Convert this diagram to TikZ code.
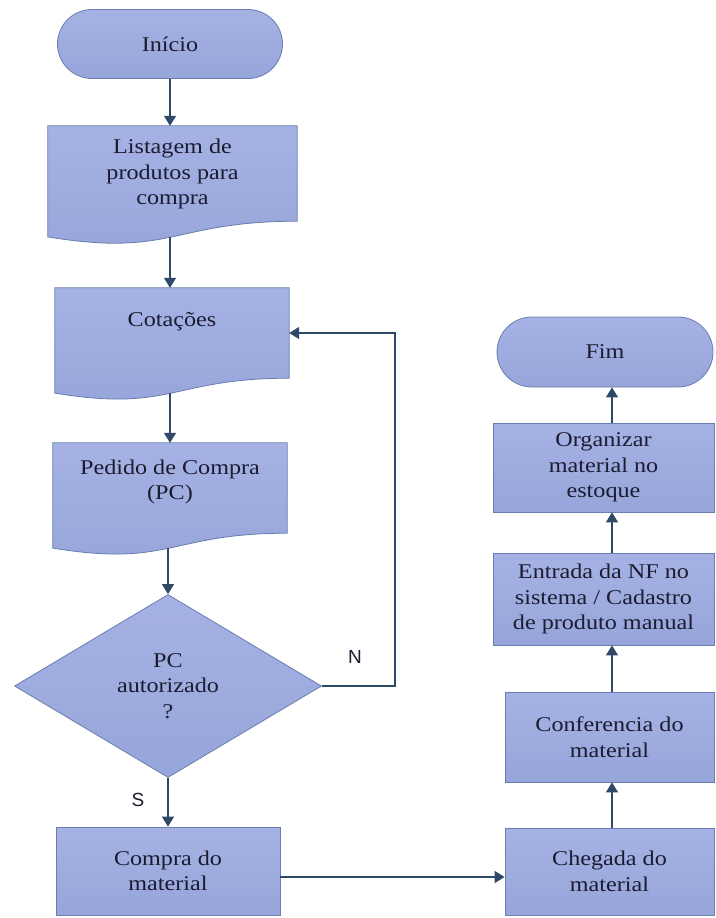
\documentclass[tikz,border=0pt]{standalone}
\usepackage{fontspec}
\setmainfont{Liberation Serif}[FakeStretch=1.15]
\newfontfamily\labfont{Liberation Sans}
\usetikzlibrary{shapes.geometric,shapes.misc,arrows.meta,backgrounds,calc}
\definecolor{boxtop}{HTML}{A6B2E4}
\definecolor{boxbot}{HTML}{96A5DA}
\definecolor{boxline}{HTML}{6A7DB0}
\definecolor{arrcol}{HTML}{2F4A68}
\definecolor{txtcol}{HTML}{1C1C30}
\tikzset{
  fillsty/.style={top color=boxtop, bottom color=boxbot, draw=boxline, line width=0.8pt},
  procbox/.style={fillsty, rectangle, align=center, inner sep=2pt},
  termbox/.style={fillsty, rounded rectangle, align=center},
  decbox/.style={fillsty, diamond, aspect=1.68, align=center, inner sep=0pt},
  docarea/.style={rectangle, inner sep=0pt},
  txt/.style={align=center, inner sep=0pt, text=txtcol, font=\fontsize{21}{25.5}\selectfont},
  lab/.style={inner sep=0pt, text=txtcol, font=\labfont\fontsize{19}{22}\selectfont},
  arr/.style={draw=arrcol, line width=1.4pt, -{Triangle[width=12pt,length=10pt]}},
}
\newcommand{\mydoc}[1]{%
  \path[fillsty] (#1.north west) -- (#1.north east) -- (#1.south east)
    .. controls (#1.south) and ($(#1.north)!1.380!(#1.south)$) ..
    ($(#1.north west)!1.1646!(#1.south west)$) -- cycle;
  \coordinate (#1-b) at ($(#1.north)!1.1633!(#1.south)$);}
\begin{document}
\begin{tikzpicture}[x=1pt,y=-1pt]
\useasboundingbox (0,0) rectangle (715,918);
\fill[white] (0,0) rectangle (715,918);
\coordinate (lc) at (170,0);
\coordinate (rc) at (612,0);
\coordinate (loop) at (395,0);
\coordinate (hr) at (0,877);

% left column
\node[termbox, minimum width=225pt, minimum height=69pt, txt] (start) at (170,44) {Início};

\node[docarea, minimum width=249pt, minimum height=95pt] (list) at (172.5,173.5) {};
\mydoc{list}
\node[txt] (list-t) at (172.5,174) {Listagem de\\produtos para\\compra};

\node[docarea, minimum width=234pt, minimum height=90pt] (cot) at (172,333) {};
\mydoc{cot}
\node[txt] (cot-t) at (172,322) {Cotações};

\node[docarea, minimum width=234pt, minimum height=90pt] (ped) at (170,488) {};
\mydoc{ped}
\node[txt] (ped-t) at (170,482) {Pedido de Compra\\(PC)};

\node[decbox, minimum width=307pt, minimum height=183pt, txt] (dia) at (168,686) {PC\\autorizado\\?};

\node[procbox, minimum width=224pt, minimum height=88pt, txt] (compra) at (168,871) {Compra do\\material};

% right column
\node[procbox, minimum width=209pt, minimum height=87pt, txt] (cheg) at (609.5,871.5) {Chegada do\\material};
\node[procbox, minimum width=209pt, minimum height=90pt, txt] (conf) at (609.5,737) {Conferencia do\\material};
\node[procbox, minimum width=221pt, minimum height=92pt, txt] (entr) at (603.5,599) {Entrada da NF no\\sistema / Cadastro\\de produto manual};
\node[procbox, minimum width=221pt, minimum height=89pt, txt] (org) at (603.5,467.5) {Organizar\\material no\\estoque};
\node[termbox, minimum width=216pt, minimum height=70pt, txt] (fim) at (605,352) {Fim};

% labels
\node[lab] (nlab) at (355,657) {N};
\node[lab] (slab) at (138,800) {S};

% connectors
\draw[arr] (start.south -| lc) -- (list.north -| lc);
\draw[arr] (list-b -| lc) -- (cot.north -| lc);
\draw[arr] (cot-b -| lc) -- (ped.north -| lc);
\draw[arr] (ped-b -| dia.north) -- (dia.north);
\draw[arr] (dia.south) -- (compra.north -| dia.south);
\draw[arr] (dia.east) -- (dia.east -| loop) |- (cot.east);
\draw[arr] (compra.east |- hr) -- (cheg.west |- hr);
\draw[arr] (cheg.north -| rc) -- (conf.south -| rc);
\draw[arr] (conf.north -| rc) -- (entr.south -| rc);
\draw[arr] (entr.north -| rc) -- (org.south -| rc);
\draw[arr] (org.north -| rc) -- (fim.south -| rc);
\end{tikzpicture}
\end{document}
